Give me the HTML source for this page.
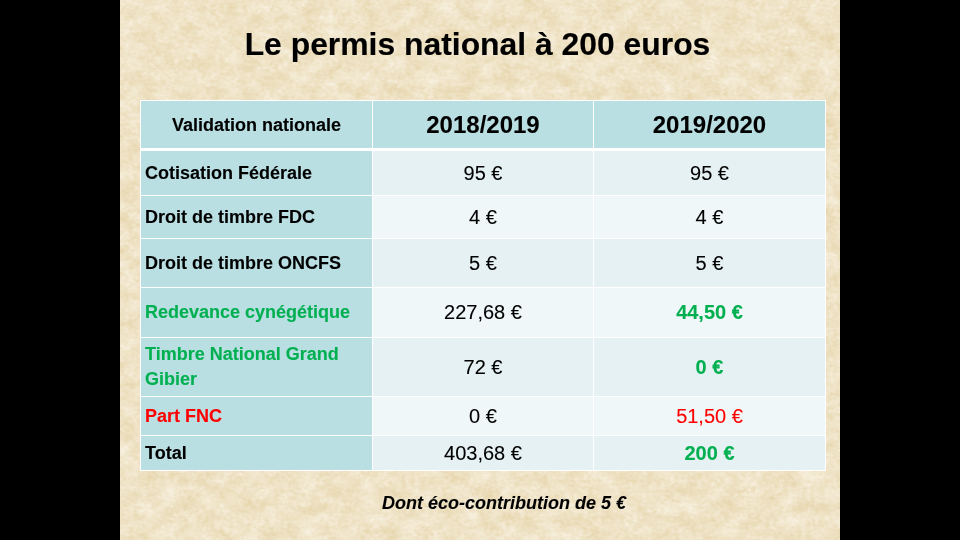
<!DOCTYPE html>
<html lang="fr">
<head>
<meta charset="utf-8">
<title>Le permis national à 200 euros</title>
<style>
html, body { margin: 0; padding: 0; }
body { width: 960px; height: 540px; background: #000; position: relative; overflow: hidden; font-family: "Liberation Sans", Arial, sans-serif; }
#slide { position: absolute; left: 120px; top: 0; width: 720px; height: 540px; background: #efe3c6; overflow: hidden; }
#slide svg.tex { position: absolute; left: 0; top: 0; }
h1 { will-change: transform; -webkit-text-stroke: 0.15px #000; position: absolute; left: 0; top: 26px; width: 715px; margin: 0; text-align: center; font: bold 31.86px/36px "Liberation Sans", Arial, sans-serif; color: #000; }
.c { will-change: transform; -webkit-text-stroke: 0.1px currentColor; position: absolute; box-sizing: border-box; display: flex; align-items: center; color: #000; }
#tbl { position: absolute; left: 20px; top: 100px; width: 686px; height: 371px; background: #fff; }
.h { background: #b9dfe3; justify-content: center; font-weight: bold; }
.hy { font-size: 24px; }
.f { background: #b9dfe3; font-weight: bold; font-size: 18px; padding-left: 4px; line-height: 25px; }
.d1 { background: #e5f1f3; justify-content: center; font-size: 20px; }
.d2 { background: #f0f7f9; justify-content: center; font-size: 20px; }
.g { color: #00b050; }
.r { color: #ff0000; }
.b { font-weight: bold; }
#note { will-change: transform; -webkit-text-stroke: 0.1px #000; position: absolute; left: 0; width: 720px; top: 493px; text-align: center; font: bold italic 18px/20px "Liberation Sans", Arial, sans-serif; color: #000; padding-left: 48px; box-sizing: border-box; }
</style>
</head>
<body>
<div id="slide">
<svg class="tex" width="720" height="540" viewBox="0 0 720 540">
<filter id="parch" x="0" y="0" width="100%" height="100%" color-interpolation-filters="sRGB">
<feTurbulence type="fractalNoise" baseFrequency="0.05 0.07" numOctaves="3" seed="7" result="n1"/>
<feTurbulence type="fractalNoise" baseFrequency="0.22 0.3" numOctaves="3" seed="3" result="n2"/>
<feComposite in="n1" in2="n2" operator="arithmetic" k1="0" k2="0.6" k3="0.4" k4="0" result="n"/>
<feColorMatrix in="n" type="matrix" values="0.12 0 0 0 0.8773 0.19 0 0 0 0.7952 0.36 0 0 0 0.5965 0 0 0 0 1"/>
</filter>
<rect width="720" height="540" filter="url(#parch)"/>
</svg>
<h1>Le permis national à 200 euros</h1>
<div id="tbl">
  <div class="c h hc" style="left:1px;top:1px;width:231px;height:47px;font-size:18px;padding-top:2px">Validation nationale</div>
  <div class="c h hy" style="left:233px;top:1px;width:220px;height:47px;">2018/2019</div>
  <div class="c h hy" style="left:454px;top:1px;width:231px;height:47px;">2019/2020</div>
  <div class="c f" style="left:1px;top:51px;width:231px;height:44px;">Cotisation Fédérale</div>
  <div class="c d1" style="left:233px;top:51px;width:220px;height:44px;">95 €</div>
  <div class="c d1" style="left:454px;top:51px;width:231px;height:44px;">95 €</div>
  <div class="c f" style="left:1px;top:96px;width:231px;height:42px;">Droit de timbre FDC</div>
  <div class="c d2" style="left:233px;top:96px;width:220px;height:42px;">4 €</div>
  <div class="c d2" style="left:454px;top:96px;width:231px;height:42px;">4 €</div>
  <div class="c f" style="left:1px;top:139px;width:231px;height:48px;">Droit de timbre ONCFS</div>
  <div class="c d1" style="left:233px;top:139px;width:220px;height:48px;">5 €</div>
  <div class="c d1" style="left:454px;top:139px;width:231px;height:48px;">5 €</div>
  <div class="c f g" style="left:1px;top:188px;width:231px;height:49px;">Redevance cynégétique</div>
  <div class="c d2" style="left:233px;top:188px;width:220px;height:49px;">227,68 €</div>
  <div class="c d2 g b" style="left:454px;top:188px;width:231px;height:49px;">44,50 €</div>
  <div class="c f g" style="left:1px;top:238px;width:231px;height:58px;">Timbre National Grand<br>Gibier</div>
  <div class="c d1" style="left:233px;top:238px;width:220px;height:58px;">72 €</div>
  <div class="c d1 g b" style="left:454px;top:238px;width:231px;height:58px;">0 €</div>
  <div class="c f r" style="left:1px;top:297px;width:231px;height:38px;">Part FNC</div>
  <div class="c d2" style="left:233px;top:297px;width:220px;height:38px;">0 €</div>
  <div class="c d2 r" style="left:454px;top:297px;width:231px;height:38px;">51,50 €</div>
  <div class="c f" style="left:1px;top:336px;width:231px;height:34px;">Total</div>
  <div class="c d1" style="left:233px;top:336px;width:220px;height:34px;">403,68 €</div>
  <div class="c d1 g b" style="left:454px;top:336px;width:231px;height:34px;">200 €</div>
</div>
<div id="note">Dont éco-contribution de 5 €</div>
</div>
</body>
</html>
